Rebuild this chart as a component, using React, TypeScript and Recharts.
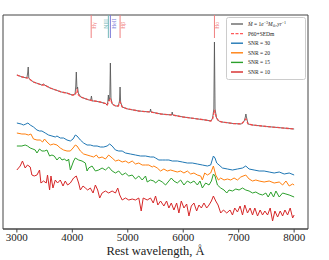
import React from 'react';
import { ComposedChart, Line, XAxis, YAxis, Scatter, ReferenceArea, Legend } from 'recharts';

// Wavelength (Å) / relative flux (arbitrary units, offset for display)
const modelSpec: [number, number][] = [
  [3000,154],[3100,152],[3180,151],[3195,156],[3205,162],[3215,151],[3250,149],[3300,147],[3400,145],[3450,144],[3480,145],[3500,144],
  [3600,141],[3700,139],[3800,137],[3900,136],[4000,134],[4050,135],[4062,143],[4072,157],[4084,140],[4095,142],[4108,136],[4150,132],
  [4200,131],[4300,129],[4332,129],[4345,133],[4358,128],[4400,128],[4500,127],[4600,125.5],[4625,124],[4640,127],[4650,134],[4660,128],
  [4676,132],[4686,166],[4697,131],[4720,125],[4780,123],[4830,123],[4851,128],[4861,142],[4871,127],[4900,122],[5000,120],[5200,118],
  [5400,117],[5411,120],[5422,117],[5600,115],[5790,114],[5801,117],[5812,114],[6000,112],[6200,110.5],[6400,109],[6500,108],[6530,111],
  [6552,120],[6563,187],[6574,120],[6600,111],[6640,108],[6700,107],[6900,105.5],[7050,105],[7100,108],[7120,112],[7130,115],[7140,112],
  [7170,105],[7250,104],[7500,102.5],[8000,100],
];

const p60Spec: [number, number][] = [
  [3000,154],[3100,152],[3200,151],[3250,149],[3300,147],[3400,145],[3450,144],[3500,144],[3600,141],[3700,139],[3800,137],[3900,136],
  [4000,134],[4050,134],[4085,139],[4110,134],[4150,132],[4200,131],[4300,129],[4350,128.5],[4400,128],[4500,127],[4600,125.5],[4630,124],
  [4660,128],[4686,130],[4720,125],[4780,123],[4830,123],[4861,127],[4900,122],[5000,120],[5200,118],[5400,117],[5600,115],[5800,114],
  [6000,112],[6200,110.5],[6400,109],[6500,108],[6530,110],[6563,119],[6600,111],[6640,108],[6700,107],[6900,105.5],[7050,105],[7100,108],
  [7130,110],[7170,105],[7250,104],[7500,102.5],[8000,100],
];

const snr30: [number, number][] = [
  [3000,106],[3078,105],[3119,104],[3163,105],[3199,106],[3241,104],[3300,102],[3362,99],[3409,98],[3452,98],[3512,96],[3571,94],[3633,93],
  [3693,92],[3723,93],[3783,91],[3843,91],[3904,89],[3964,88],[4013,90],[4054,94],[4085,93],[4145,89],[4204,86],[4266,84],[4325,84],[4385,83],
  [4447,83],[4506,82],[4566,82],[4627,83],[4674,85],[4718,83],[4778,79],[4837,78],[4899,78],[4958,76],[5049,75],[5139,74],[5230,73],[5320,73],
  [5410,72],[5470,72],[5501,71],[5561,69],[5622,69],[5682,69],[5741,69],[5803,68],[5893,68],[5984,67],[6074,66],[6164,66],[6255,65],[6345,64],
  [6436,63],[6495,64],[6544,73],[6573,71],[6604,66],[6646,64],[6707,61],[6797,60],[6888,59],[6978,60],[7069,61],[7128,63],[7188,60],[7278,59],
  [7369,58],[7459,58],[7550,57],[7640,56],[7731,57],[7821,55],[7911,56],[8000,54],
];

const snr20: [number, number][] = [
  [3000,96],[3090,95],[3150,95],[3210,94],[3253,95],[3300,90],[3362,89],[3421,89],[3463,87],[3499,90],[3543,87],[3602,84],[3662,85],[3723,84],
  [3783,81],[3843,79],[3904,78],[3964,78],[4013,81],[4054,84],[4085,83],[4145,78],[4204,75],[4266,74],[4325,73],[4385,72],[4434,74],[4476,71],
  [4537,72],[4597,70],[4656,74],[4718,71],[4778,68],[4837,69],[4899,67],[4958,68],[5018,66],[5080,68],[5139,65],[5199,66],[5260,64],[5320,64],
  [5380,64],[5441,62],[5470,63],[5532,61],[5591,58],[5651,60],[5712,58],[5772,59],[5832,58],[5893,57],[5953,58],[6013,56],[6074,58],[6134,55],
  [6193,56],[6255,54],[6315,53],[6345,49],[6387,56],[6436,54],[6495,56],[6544,63],[6586,54],[6635,49],[6676,51],[6736,49],[6797,50],[6857,49],
  [6917,51],[6978,49],[7038,52],[7128,54],[7188,50],[7250,48],[7309,49],[7369,48],[7459,47],[7550,48],[7640,46],[7731,47],[7792,44],[7852,48],
  [7911,43],[7973,45],[8000,44],
];

const snr15: [number, number][] = [
  [3000,83],[3090,83],[3150,84],[3192,83],[3241,81],[3289,80],[3331,79],[3362,76],[3409,80],[3452,78],[3499,78],[3543,79],[3590,73],[3633,74],
  [3674,73],[3723,69],[3770,72],[3814,69],[3855,70],[3904,68],[3933,70],[3964,59],[4023,68],[4054,71],[4114,69],[4175,68],[4235,66],[4266,58],
  [4295,61],[4356,63],[4416,58],[4476,59],[4537,61],[4597,59],[4656,62],[4718,58],[4778,56],[4837,58],[4899,54],[4958,56],[5018,53],[5080,54],
  [5139,50],[5199,53],[5260,49],[5320,53],[5351,47],[5410,49],[5470,48],[5501,46],[5561,49],[5622,47],[5682,44],[5741,48],[5785,51],[5832,48],
  [5893,46],[5953,49],[6013,44],[6074,48],[6134,46],[6193,48],[6255,44],[6302,48],[6345,41],[6405,46],[6465,44],[6508,48],[6544,55],[6573,53],
  [6617,44],[6676,41],[6736,39],[6785,36],[6826,39],[6888,38],[6948,40],[7007,39],[7069,41],[7128,39],[7188,38],[7250,36],[7309,37],[7369,35],
  [7430,34],[7490,36],[7532,32],[7580,37],[7629,32],[7671,38],[7731,32],[7792,36],[7852,35],[7911,34],[8000,32],
];

const snr10: [number, number][] = [
  [3000,59],[3060,63],[3101,68],[3150,61],[3192,64],[3241,62],[3271,54],[3313,53],[3362,54],[3409,59],[3434,46],[3481,48],[3530,46],[3553,54],
  [3590,39],[3615,53],[3651,41],[3693,49],[3734,46],[3783,49],[3832,43],[3873,48],[3915,44],[3964,46],[4023,51],[4072,53],[4114,46],[4145,39],
  [4193,43],[4235,41],[4277,39],[4325,41],[4374,36],[4416,44],[4457,39],[4494,31],[4537,36],[4597,38],[4656,36],[4718,38],[4778,36],[4819,41],
  [4855,34],[4899,29],[4958,31],[5018,29],[5080,30],[5139,29],[5199,31],[5242,18],[5278,31],[5351,29],[5410,31],[5459,26],[5501,33],[5542,24],
  [5591,28],[5651,23],[5700,28],[5741,21],[5785,26],[5832,19],[5881,26],[5922,16],[5965,28],[6013,21],[6062,25],[6103,13],[6146,23],[6193,26],
  [6242,18],[6284,24],[6327,21],[6374,26],[6423,21],[6465,24],[6508,28],[6544,33],[6586,28],[6628,24],[6676,16],[6725,19],[6785,16],[6844,19],
  [6888,14],[6929,21],[6978,17],[7025,23],[7069,14],[7110,24],[7159,16],[7206,21],[7250,14],[7291,21],[7340,13],[7387,19],[7430,14],[7472,18],
  [7521,14],[7568,21],[7611,8],[7653,18],[7702,12],[7749,18],[7792,13],[7834,19],[7882,14],[7929,21],[7973,11],[8000,14],
];

const lineMarkers: { w: number; name: string }[] = [
  { w: 4340, name: 'Hγ' },
  { w: 4650, name: 'NIII' },
  { w: 4686, name: 'HeII' },
  { w: 4861, name: 'Hβ' },
  { w: 6563, name: 'Hα' },
];

const xTicks = [3000, 4000, 5000, 6000, 7000, 8000];
const xDomain: [number, number] = [2750, 8250];
const yDomain: [number, number] = [0, 214];

const toPts = (a: [number, number][]) => a.map(([w, f]) => ({ w, f }));

const SERIF = "'Liberation Serif', 'DejaVu Serif', serif";

const markerStyle: Record<string, { color: string; dx: number }> = {
  'Hγ': { color: '#f08080', dx: 4.8 },
  'NIII': { color: '#74b8b8', dx: -0.7 },
  'HeII': { color: '#7878d8', dx: 5.7 },
  'Hβ': { color: '#f08080', dx: 5.3 },
  'Hα': { color: '#f08080', dx: 4.7 },
};

const MarkerShape = (props: any) => {
  const { cx, cy } = props;
  const p = props.payload ?? props;
  const st = markerStyle[p.name];
  return (
    <g>
      <line x1={cx} x2={cx} y1={cy} y2={cy + 23} stroke={st.color} strokeWidth={1} />
      <text
        transform={`translate(${cx + st.dx},${cy + 13.7}) rotate(-90)`}
        fontSize={5.5}
        fill={st.color}
        fontFamily={SERIF}
      >
        {p.name}
      </text>
    </g>
  );
};

const legendRows = [
  { key: 'model', color: '#666666', dash: undefined as string | undefined },
  { key: 'p60', color: '#ff5a5a', dash: '3 1.5' },
  { key: 'SNR = 30', color: '#1f77b4', dash: undefined },
  { key: 'SNR = 20', color: '#ff7f0e', dash: undefined },
  { key: 'SNR = 15', color: '#2ca02c', dash: undefined },
  { key: 'SNR = 10', color: '#d62728', dash: undefined },
];

const LegendBox = () => (
  <svg width={80} height={63} style={{ display: 'block' }}>
    <rect x={0.5} y={0.5} width={79} height={62} rx={2} fill="rgba(255,255,255,0.85)" stroke="#cccccc" strokeWidth={1} />
    {legendRows.map((r, i) => {
      const y = 7 + i * 9.6;
      return (
        <g key={r.key}>
          <line x1={5} x2={17} y1={y} y2={y} stroke={r.color} strokeWidth={1.4} strokeDasharray={r.dash} />
          {r.key === 'model' ? (
            <text x={22} y={y + 2} fontSize={5.5} fill="#222" fontFamily={SERIF}>
              <tspan fontStyle="italic">Ṁ</tspan>
              <tspan> = 1</tspan>
              <tspan fontStyle="italic">e</tspan>
              <tspan dy={-2} fontSize={4}>−3</tspan>
              <tspan dy={2} fontStyle="italic">M</tspan>
              <tspan dy={1} fontSize={4}>⊙</tspan>
              <tspan dy={-1}>.</tspan>
              <tspan fontStyle="italic">yr</tspan>
              <tspan dy={-2} fontSize={4}>−1</tspan>
            </text>
          ) : (
            <text x={22} y={y + 2} fontSize={5.5} fill="#222" fontFamily={SERIF}>
              {r.key === 'p60' ? 'P60+SEDm' : r.key}
            </text>
          )}
        </g>
      );
    })}
  </svg>
);

export default function App() {
  return (
    <div style={{ position: 'absolute', left: 0, top: 0, width: 329, height: 260, background: '#fff' }}>
      <ComposedChart width={329} height={260} margin={{ top: 15, right: 21, left: 3, bottom: 0 }}>
        <XAxis
          dataKey="w"
          type="number"
          domain={xDomain}
          ticks={xTicks}
          allowDataOverflow
          height={31}
          tickSize={3.5}
          tickMargin={1}
          axisLine={{ stroke: '#444' }}
          tickLine={{ stroke: '#444' }}
          tick={{ fontSize: 11, fill: '#222', fontFamily: SERIF }}
          label={{ value: 'Rest wavelength, Å', position: 'insideBottom', offset: 5, fontSize: 12.5, fill: '#222', fontFamily: SERIF }}
        />
        <YAxis type="number" domain={yDomain} hide allowDataOverflow />
        <ReferenceArea x1={xDomain[0]} x2={xDomain[1]} y1={yDomain[0]} y2={yDomain[1]} fill="none" stroke="#444" strokeWidth={1} ifOverflow="visible" />
        <Line data={toPts(snr30)} dataKey="f" stroke="#1f77b4" strokeWidth={1} dot={false} isAnimationActive={false} type="linear" />
        <Line data={toPts(snr20)} dataKey="f" stroke="#ff7f0e" strokeWidth={1} dot={false} isAnimationActive={false} type="linear" />
        <Line data={toPts(snr15)} dataKey="f" stroke="#2ca02c" strokeWidth={1} dot={false} isAnimationActive={false} type="linear" />
        <Line data={toPts(snr10)} dataKey="f" stroke="#d62728" strokeWidth={1} dot={false} isAnimationActive={false} type="linear" />
        <Line data={toPts(modelSpec)} dataKey="f" stroke="#555555" strokeOpacity={0.85} strokeWidth={1} dot={false} isAnimationActive={false} type="linear" />
        <Line data={toPts(p60Spec)} dataKey="f" stroke="#ff4040" strokeOpacity={0.9} strokeWidth={1.3} strokeDasharray="3 1.5" dot={false} isAnimationActive={false} type="linear" />
        <Scatter
          data={lineMarkers.map((m) => ({ w: m.w, f: yDomain[1], name: m.name }))}
          dataKey="f"
          shape={MarkerShape}
          isAnimationActive={false}
        />
        <Legend
          layout="vertical"
          align="center"
          verticalAlign="middle"
          content={() => <LegendBox />}
          wrapperStyle={{ position: 'absolute', left: 226, top: 17, width: 80, height: 63 }}
        />
      </ComposedChart>
    </div>
  );
}
